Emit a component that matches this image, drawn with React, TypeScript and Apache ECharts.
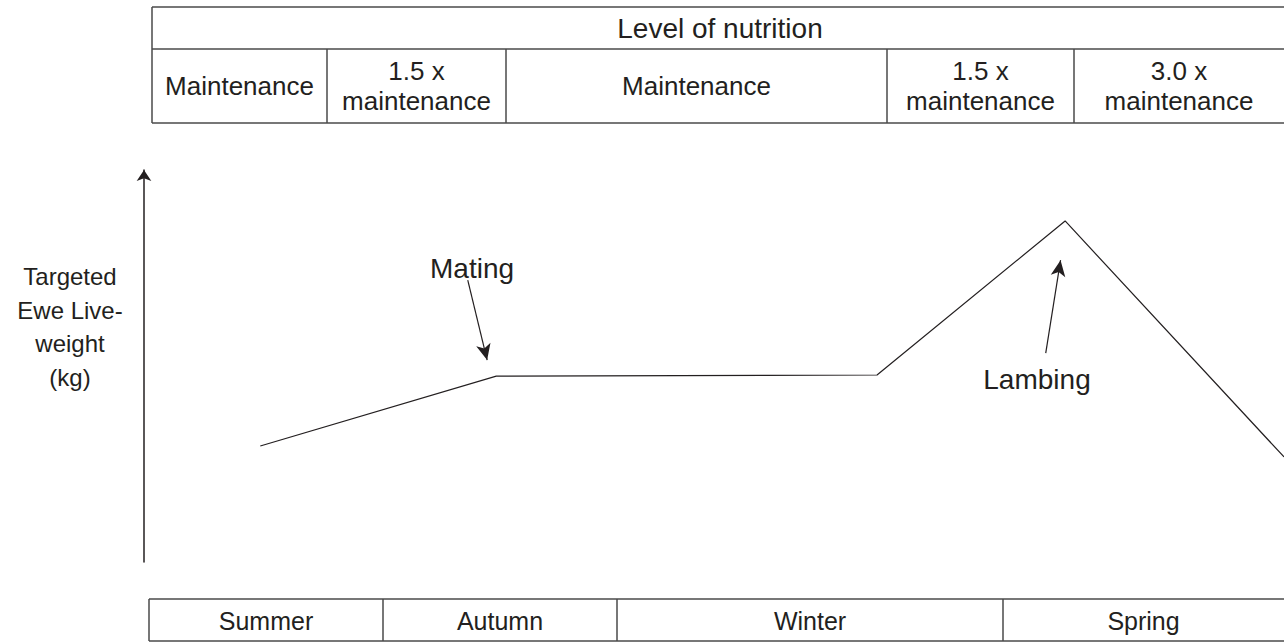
import React, { useEffect, useRef } from "react";
import * as echarts from "echarts";

// ---- data ----
const nutritionHeader = "Level of nutrition";
const nutritionLevels = [
  "Maintenance",
  "1.5 x\nmaintenance",
  "Maintenance",
  "1.5 x\nmaintenance",
  "3.0 x\nmaintenance",
];
const seasons = ["Summer", "Autumn", "Winter", "Spring"];
// time through the year (% of x range) and targeted liveweight (relative units)
const timeX = [10.2, 30.9, 64.3, 80.8, 100];
const liveweight = [29.6, 47.4, 47.7, 87.0, 26.8];
const eventNames = ["Mating", "Lambing"];
const yAxisTitle = "Targeted\nEwe Live-\nweight\n(kg)";

// ---- layout (pixels) ----
const W = 1284;
const H = 642;
const FONT = "'Liberation Sans', Arial, Helvetica, sans-serif";
const TEXT_COLOR = "#231f20";
const BORDER = "#4a4a4a";

const topCols = [152, 327, 506, 887, 1074, 1300];
const topY0 = 7;
const topYMid = 49;
const topY1 = 123;
const botCols = [149, 383, 617, 1003, 1300];
const botY0 = 599;
const botY1 = 641;

const eventArrows = [
  [[28.4, 71.9], [30.1, 51.5]],
  [[79.1, 53.3], [80.4, 77.0]],
];
const eventLabelPos = [
  [472, 268],
  [1037, 379],
];

function buildGraphic(): any[] {
  const g: any[] = [];
  const line = (x1: number, y1: number, x2: number, y2: number) => ({
    type: "line",
    shape: { x1, y1, x2, y2 },
    style: { stroke: BORDER, lineWidth: 1.5 },
    silent: true,
  });
  const text = (x: number, y: number, t: string, fs: number, lh = 30) => ({
    type: "text",
    x,
    y,
    style: {
      text: t,
      font: `${fs}px ${FONT}`,
      fill: TEXT_COLOR,
      align: "center",
      verticalAlign: "middle",
      lineHeight: lh,
    },
    silent: true,
  });

  // top table
  const tl = topCols[0];
  const tr = topCols[topCols.length - 1];
  g.push(line(tl, topY0, tr, topY0));
  g.push(line(tl, topYMid, tr, topYMid));
  g.push(line(tl, topY1, tr, topY1));
  g.push(line(tl, topY0, tl, topY1));
  for (let i = 1; i < topCols.length - 1; i++) g.push(line(topCols[i], topYMid, topCols[i], topY1));
  g.push(text(720, 28, nutritionHeader, 28));
  nutritionLevels.forEach((lab, i) => {
    const x0 = topCols[i];
    const x1 = i === nutritionLevels.length - 1 ? W : topCols[i + 1];
    g.push(text((x0 + x1) / 2, 86, lab, 26, 30));
  });

  // bottom table
  const bl = botCols[0];
  const br = botCols[botCols.length - 1];
  g.push(line(bl, botY0, br, botY0));
  g.push(line(bl, botY1, br, botY1));
  g.push(line(bl, botY0, bl, botY1));
  for (let i = 1; i < botCols.length - 1; i++) g.push(line(botCols[i], botY0, botCols[i], botY1));
  seasons.forEach((s, i) => {
    const x0 = botCols[i];
    const x1 = i === seasons.length - 1 ? W : botCols[i + 1];
    g.push(text((x0 + x1) / 2, (botY0 + botY1) / 2 + 1, s, 25));
  });

  // y axis title
  g.push(text(70, 327, yAxisTitle, 24, 33.5));

  // event labels
  eventNames.forEach((n, i) => g.push(text(eventLabelPos[i][0], eventLabelPos[i][1], n, 28)));
  return g;
}

export default function App() {
  const ref = useRef<HTMLDivElement>(null);
  useEffect(() => {
    if (!ref.current) return;
    const chart = echarts.init(ref.current, undefined, { renderer: "svg", width: W, height: H });
    chart.setOption({
      animation: false,
      backgroundColor: "#ffffff",
      grid: { left: 144, right: 0, top: 170, bottom: 80, containLabel: false },
      xAxis: {
        type: "value",
        min: 0,
        max: 100,
        show: false,
      },
      yAxis: {
        type: "value",
        min: 0,
        max: 100,
        axisLine: {
          show: true,
          symbol: ["none", "arrow"],
          symbolSize: [11, 11],
          lineStyle: { color: TEXT_COLOR, width: 1.5 },
        },
        axisTick: { show: false },
        axisLabel: { show: false },
        splitLine: { show: false },
      },
      series: [
        {
          type: "line",
          data: timeX.map((x, i) => [x, liveweight[i]]),
          symbol: "none",
          lineStyle: { color: TEXT_COLOR, width: 1.2 },
          clip: false,
          markLine: {
            silent: true,
            symbol: ["none", "arrow"],
            symbolSize: [11, 16],
            label: { show: false },
            lineStyle: { color: TEXT_COLOR, width: 1.2, type: "solid" },
            emphasis: { disabled: true },
            data: eventArrows.map((a) => [
              { coord: a[0] },
              { coord: a[1] },
            ]),
          },
        },
      ],
      graphic: buildGraphic(),
    });
    return () => chart.dispose();
  }, []);
  return (
    <div
      ref={ref}
      style={{ position: "absolute", left: 0, top: 0, width: W, height: H, background: "#fff" }}
    />
  );
}
